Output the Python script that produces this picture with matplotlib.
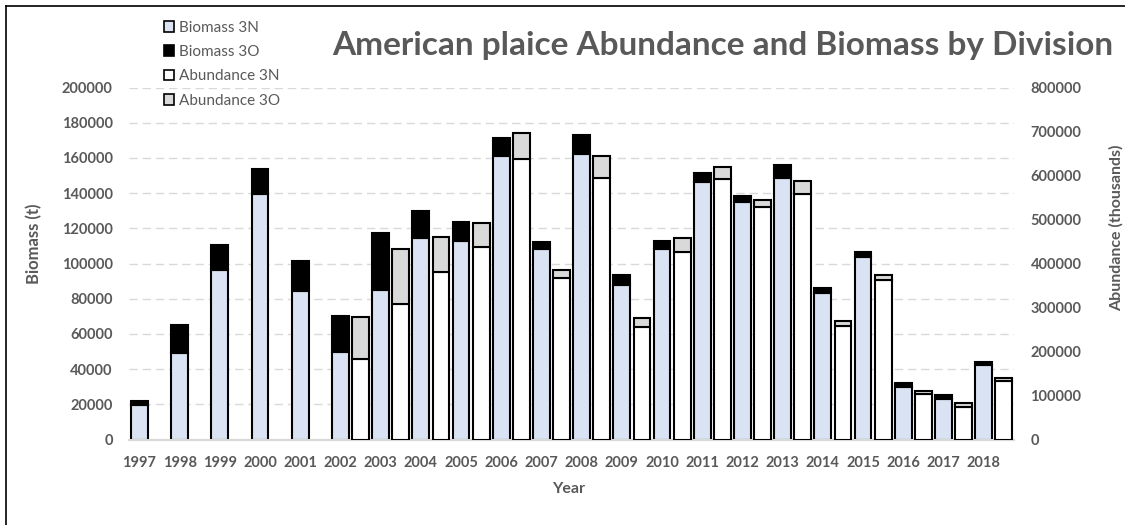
#!/usr/bin/env python3
"""
American plaice abundance and biomass by NAFO division (3N / 3O), 1997-2018.

Stacked bars: biomass on the left axis, abundance on the right axis,
drawn side by side for each survey year.
"""

import numpy as np
import matplotlib.pyplot as plt
from matplotlib.patches import Patch
from matplotlib.lines import Line2D

plt.rcParams['font.family'] = ['Lato', 'DejaVu Sans']

# Survey years
years = list(range(1997, 2019))

# Biomass (t) by division
biomass_3n = [19500, 49300, 96100, 139700, 84200, 49700, 84700, 114500, 112800, 161000, 108000,
              162300, 87900, 108400, 146100, 135100, 148500, 83400, 103500, 30000, 22800, 42100]
biomass_3o = [2500, 15700, 14400, 13800, 17200, 20300, 32600, 15500, 10900, 10400, 4400,
              10800, 5500, 4300, 5400, 3200, 7400, 2800, 3200, 1900, 2300, 1900]

# Abundance (thousands) by division; no abundance shown before 2002
abundance_3n = [0, 0, 0, 0, 0, 183700, 308700, 380000, 436800, 638300, 366300,
                593600, 255000, 425500, 592800, 528500, 558800, 258700, 361800, 103400, 73200, 133000]
abundance_3o = [0, 0, 0, 0, 0, 94000, 125000, 79500, 54600, 57700, 19000,
                50800, 21900, 31800, 27300, 15900, 28800, 10600, 12100, 6100, 9100, 7500]

TEXT_GREY = '#595959'
GRID_GREY = '#D9D9D9'
COLORS = {
    'Biomass 3N': '#DAE3F3',
    'Biomass 3O': '#000000',
    'Abundance 3N': '#FFFFFF',
    'Abundance 3O': '#D9D9D9',
}

W, H = 1125, 525


def main():
    fig = plt.figure(figsize=(W / 100, H / 100), dpi=100)
    ax = fig.add_axes([129.4 / W, 1 - 439.5 / H, (1013.8 - 129.4) / W, 352 / H])
    ax2 = ax.twinx()

    x = np.arange(len(years))
    width = 0.42
    bar_kw = dict(width=width, edgecolor='black', linewidth=1.5, zorder=3)

    # Biomass bars (left axis)
    ax.bar(x - 0.25, biomass_3n, color=COLORS['Biomass 3N'], **bar_kw)
    ax.bar(x - 0.25, biomass_3o, bottom=biomass_3n, color=COLORS['Biomass 3O'], **bar_kw)

    # Abundance bars (right axis), only where surveyed
    ab_n = np.array(abundance_3n)
    ab_o = np.array(abundance_3o)
    has_ab = (ab_n + ab_o) > 0
    ax2.bar(x[has_ab] + 0.25, ab_n[has_ab], color=COLORS['Abundance 3N'], **bar_kw)
    ax2.bar(x[has_ab] + 0.25, ab_o[has_ab], bottom=ab_n[has_ab],
            color=COLORS['Abundance 3O'], **bar_kw)

    ax.set_xlim(-0.5, len(years) - 0.5)
    ax.set_ylim(0, 200000)
    ax2.set_ylim(0, 800000)
    ax.set_yticks(np.arange(0, 200001, 20000))
    ax2.set_yticks(np.arange(0, 800001, 100000))
    ax.set_xticks(x - 0.25)
    ax.set_xticklabels([str(y) for y in years])

    ax.yaxis.grid(True, color=GRID_GREY, linestyle=(0, (6, 3.5)), linewidth=1.0, zorder=0)
    ax.set_axisbelow(True)

    for a in (ax, ax2):
        for side in ('top', 'left', 'right'):
            a.spines[side].set_visible(False)
        a.spines['bottom'].set_color(GRID_GREY)
        a.spines['bottom'].set_linewidth(1.5)
        a.tick_params(length=0, colors=TEXT_GREY, labelsize=10.5)
        for lbl in a.get_yticklabels() + a.get_xticklabels():
            lbl.set_fontweight('bold')
    ax.tick_params(axis='y', pad=12)
    ax2.tick_params(axis='y', pad=12)
    ax.tick_params(axis='x', pad=12)

    # Axis titles
    fig.text(569 / W, 1 - 489 / H, 'Year', ha='center', va='center',
             fontsize=11.5, fontweight='bold', color=TEXT_GREY)
    fig.text(34 / W, 1 - 244 / H, 'Biomass (t)', ha='center', va='center', rotation=90,
             fontsize=12, fontweight='bold', color=TEXT_GREY)
    fig.text(1116 / W, 1 - 228 / H, 'Abundance (thousands)', ha='center', va='center',
             rotation=90, fontsize=11.5, fontweight='bold', color=TEXT_GREY)

    fig.text(723 / W, 1 - 45 / H, 'American plaice Abundance and Biomass by Division',
             ha='center', va='center', fontsize=24, fontweight='bold', color=TEXT_GREY)

    # Legend
    handles = [Patch(facecolor=c, edgecolor='black', linewidth=1.2, label=k)
               for k, c in COLORS.items()]
    leg = fig.legend(handles=handles, loc='upper left', bbox_to_anchor=(156 / W, 1 - 13 / H),
                     frameon=False, fontsize=11, handlelength=0.7, handleheight=0.7,
                     handletextpad=0.3, labelspacing=0.68, borderpad=0)
    for t in leg.get_texts():
        t.set_color(TEXT_GREY)

    # Chart frame
    fig.add_artist(Line2D([6 / W, 6 / W], [0, 1 - 6 / H], transform=fig.transFigure,
                          color='black', linewidth=1.2))
    fig.add_artist(Line2D([6 / W, 1], [1 - 6 / H, 1 - 6 / H], transform=fig.transFigure,
                          color='black', linewidth=1.2))

    fig.savefig('out.png', dpi=100)
    plt.close(fig)


if __name__ == '__main__':
    main()
